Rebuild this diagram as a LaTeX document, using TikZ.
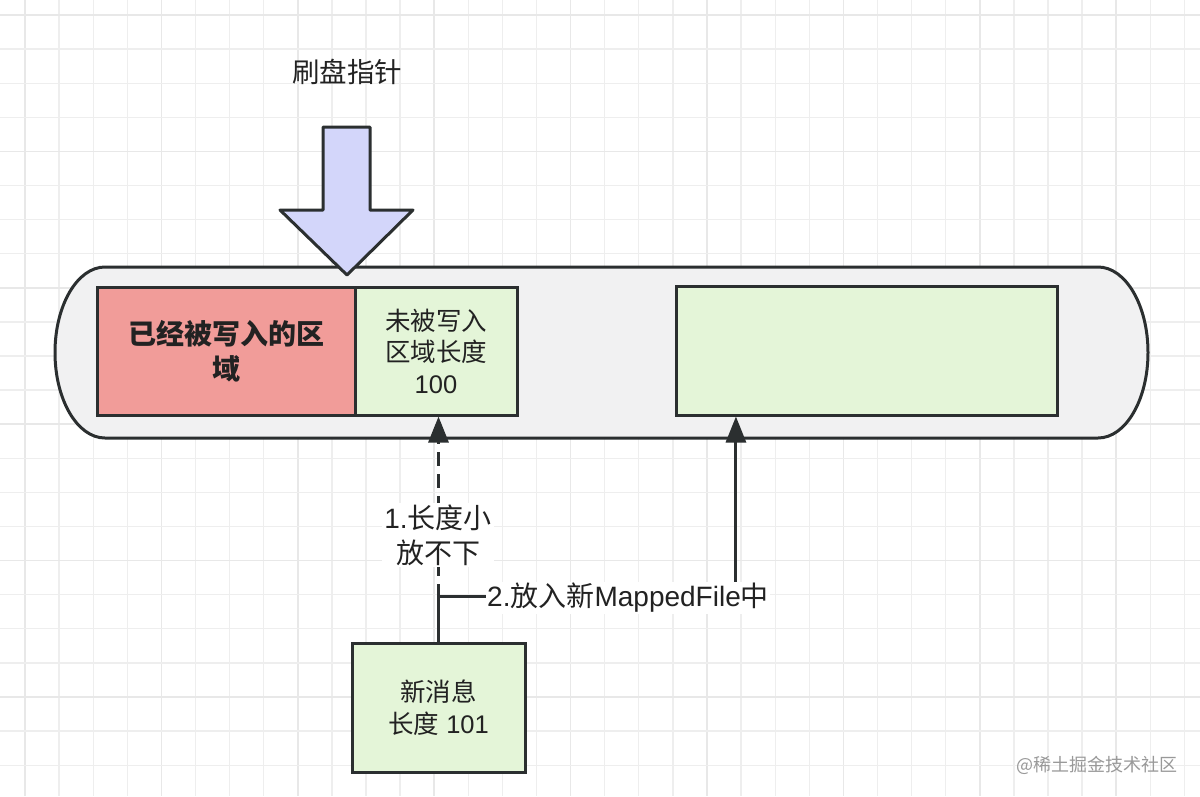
\documentclass[tikz,border=0pt]{standalone}
\usepackage{fontspec}
\setmainfont{Noto Sans CJK SC}
\newfontfamily\latn{Liberation Sans}
\usetikzlibrary{arrows.meta,calc}
\definecolor{ink}{HTML}{2B2F30}
\definecolor{txt}{HTML}{222222}
\definecolor{gridc}{HTML}{EEEEEE}
\definecolor{gridm}{HTML}{E8E8E8}
\definecolor{capfill}{HTML}{F1F1F2}
\definecolor{redfill}{HTML}{F19C99}
\definecolor{greenfill}{HTML}{E4F5D8}
\definecolor{lavender}{HTML}{D3D6FA}
\tikzset{
  box/.style={draw=ink, line width=3pt, rectangle, inner sep=0pt, align=center, text=txt,
    font=\fontsize{25.5}{31.5}\selectfont},
  redbox/.style={box, fill=redfill, font=\fontsize{28}{35}\selectfont\bfseries},
  greenbox/.style={box, fill=greenfill},
  edge/.style={draw=ink, line width=3pt, -{Triangle[length=26pt,width=20pt]}},
  lbl/.style={fill=white, text=txt, align=center, inner sep=2pt, font=\fontsize{28}{35}\selectfont},
}
\begin{document}
\begin{tikzpicture}[x=1pt,y=-1pt]
\useasboundingbox (0,0) rectangle (1200,796);
\fill[white] (0,0) rectangle (1200,796);
% grid
\foreach \i in {0,...,34} {
  \pgfmathsetmacro{\gx}{25+34.1*\i}
  \pgfmathtruncatemacro{\m}{mod(\i,4)}
  \ifnum\m=0 \draw[gridm, line width=1.5pt] (\gx,0) -- (\gx,796);
  \else \draw[gridc, line width=1.3pt] (\gx,0) -- (\gx,796); \fi
}
\foreach \j in {0,...,23} {
  \pgfmathsetmacro{\gy}{15+34.1*\j}
  \pgfmathtruncatemacro{\m}{mod(\j,4)}
  \ifnum\m=0 \draw[gridm, line width=1.5pt] (0,\gy) -- (1200,\gy);
  \else \draw[gridc, line width=1.3pt] (0,\gy) -- (1200,\gy); \fi
}
% capsule
\draw[draw=ink, fill=capfill, line width=3pt]
  (105,267) -- (1098,267) arc[start angle=-90, end angle=90, x radius=50, y radius=85.5]
  -- (105,438) arc[start angle=90, end angle=270, x radius=50, y radius=85.5] -- cycle;
% boxes
\node[redbox, minimum width=258pt, minimum height=128pt] (written) at (226,351) {已经被写入的区\\域};
\node[greenbox, minimum width=162pt, minimum height=128pt] (free) at (436,351) {未被写入\\区域长度\\{\latn 100}};
\node[greenbox, minimum width=381pt, minimum height=129pt] (newfile) at (866.5,350.5) {};
\node[greenbox, minimum width=173pt, minimum height=129pt] (msg) at (438.5,707.5) {新消息\\长度{\latn\ 101}};
% flush pointer arrow
\draw[draw=ink, fill=lavender, line width=3pt, line join=round]
  (323,127) -- (370,127) -- (370,210) -- (413,210) -- (347,275) -- (280,210) -- (323,210) -- cycle;
\node[text=txt, font=\fontsize{27.5}{32}\selectfont] (ptr) at (347,72) {刷盘指针};
% connectors
\coordinate (bend) at ($(msg.north)+(0,-45)$);
\coordinate (newin) at ($(newfile.south west)!0.16!(newfile.south east)$);
\draw[edge, dash pattern=on 14pt off 8pt] (msg.north) -- (msg.north |- free.south);
\draw[edge, line join=miter] (msg.north) -- (bend) -| (newin);
\node[lbl] (l1) at (438,535) {{\latn 1.}长度小\\放不下};
\node[lbl, anchor=west, inner sep=1pt] (l2) at (486,598) {{\latn 2.}放入新{\latn MappedFile}中};
% watermark
\node[text=black!40, font=\fontsize{18}{20}\selectfont] (wm) at (1097,765) {@稀土掘金技术社区};
\end{tikzpicture}
\end{document}
